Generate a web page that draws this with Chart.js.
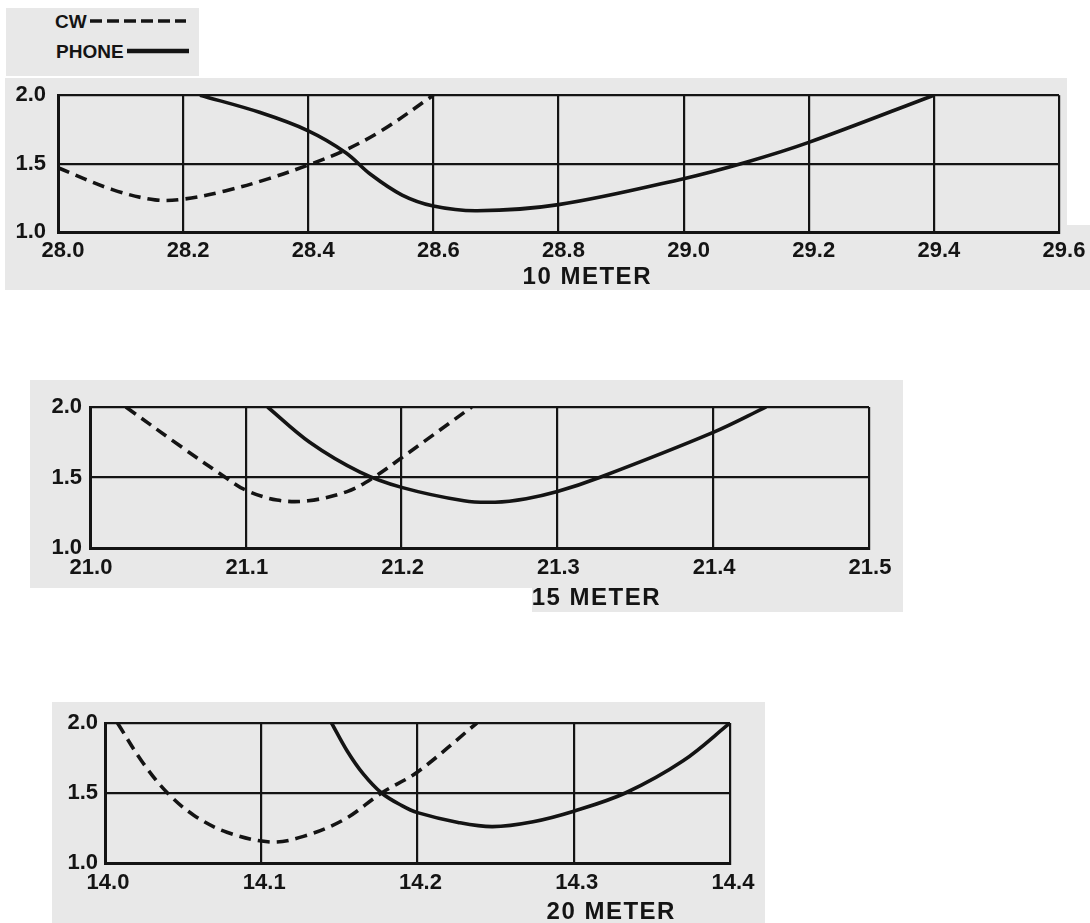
<!DOCTYPE html>
<html><head><meta charset="utf-8">
<script src="https://cdn.jsdelivr.net/npm/chart.js@4/dist/chart.umd.min.js"></script>
<style>
html,body{margin:0;padding:0;background:#fff;width:1090px;height:923px;overflow:hidden;font-family:"Liberation Sans",Arial,sans-serif;}
.panel{position:absolute;background:#e8e8e8;}
canvas{position:absolute;left:0;}
.lg{position:absolute;font-weight:bold;font-size:19px;color:#141414;line-height:1;}
</style></head><body>
<div class="panel" style="left:6px;top:8px;width:193px;height:68px"></div>
<div class="panel" style="left:5px;top:78px;width:1062px;height:212px"></div>
<div class="panel" style="left:1060px;top:225px;width:30px;height:65px"></div>
<div class="panel" style="left:30px;top:380px;width:873px;height:208px"></div>
<div class="panel" style="left:532px;top:586px;width:371px;height:26px"></div>
<div class="panel" style="left:52px;top:702px;width:713px;height:221px"></div>

<div class="lg" style="left:55px;top:12px;">CW</div>
<svg style="position:absolute;left:89px;top:16px" width="100" height="10"><line x1="1" y1="5" x2="97" y2="5" stroke="#141414" stroke-width="3.5" stroke-dasharray="12,5"/></svg>
<div class="lg" style="left:56px;top:42px;">PHONE</div>
<svg style="position:absolute;left:126px;top:46px" width="66" height="10"><line x1="1" y1="5" x2="63" y2="5" stroke="#141414" stroke-width="4.5"/></svg>

<canvas id="c10" width="1090" height="220" style="top:70px"></canvas>
<canvas id="c15" width="1090" height="240" style="top:380px"></canvas>
<canvas id="c20" width="1090" height="223" style="top:700px"></canvas>
<script>
// ---- 10 METER ----
const xTicks10 = [28.0, 28.2, 28.4, 28.6, 28.8, 29.0, 29.2, 29.4, 29.6];
const xLabels10 = ["28.0", "28.2", "28.4", "28.6", "28.8", "29.0", "29.2", "29.4", "29.6"];
const cw10X = [28.0, 28.087, 28.155, 28.2, 28.267, 28.337, 28.4, 28.455, 28.517, 28.6];
const cw10Y = [1.47, 1.31, 1.235, 1.24, 1.30, 1.39, 1.49, 1.59, 1.74, 2.0];
const phone10X = [28.227, 28.322, 28.4, 28.46, 28.5, 28.55, 28.6, 28.67, 28.8, 29.0, 29.1, 29.2, 29.4];
const phone10Y = [2.0, 1.875, 1.74, 1.58, 1.42, 1.27, 1.19, 1.155, 1.20, 1.39, 1.51, 1.655, 2.0];

// ---- 15 METER ----
const xTicks15 = [21.0, 21.1, 21.2, 21.3, 21.4, 21.5];
const xLabels15 = ["21.0", "21.1", "21.2", "21.3", "21.4", "21.5"];
const cw15X = [21.023, 21.057, 21.087, 21.1, 21.12, 21.14, 21.165, 21.182, 21.2, 21.245];
const cw15Y = [2.0, 1.73, 1.50, 1.41, 1.34, 1.335, 1.40, 1.50, 1.64, 2.0];
const phone15X = [21.114, 21.141, 21.173, 21.2, 21.24, 21.26, 21.28, 21.3, 21.327, 21.4, 21.434];
const phone15Y = [2.0, 1.75, 1.54, 1.43, 1.335, 1.325, 1.35, 1.40, 1.50, 1.82, 2.0];

// ---- 20 METER ----
const xTicks20 = [14.0, 14.1, 14.2, 14.3, 14.4];
const xLabels20 = ["14.0", "14.1", "14.2", "14.3", "14.4"];
const cw20X = [14.008, 14.024, 14.04, 14.057, 14.078, 14.106, 14.127, 14.153, 14.177, 14.2, 14.238];
const cw20Y = [2.0, 1.72, 1.50, 1.34, 1.22, 1.15, 1.19, 1.31, 1.50, 1.65, 2.0];
const phone20X = [14.145, 14.155, 14.165, 14.177, 14.19, 14.2, 14.226, 14.248, 14.274, 14.3, 14.333, 14.37, 14.4];
const phone20Y = [2.0, 1.80, 1.64, 1.50, 1.41, 1.36, 1.29, 1.26, 1.295, 1.37, 1.50, 1.73, 2.0];

// ---- shared SWR axis ----
const yTicks = [1.0, 1.5, 2.0];
const yLabels = ["1.0", "1.5", "2.0"];

const INK = '#141414';
const FONT = '"Liberation Sans", Arial, sans-serif';

function zip(xs, ys) { return xs.map((x, i) => ({x: x, y: ys[i]})); }

const bandTitle = {
  id: 'bandTitle',
  afterDraw(chart, args, o) {
    const ctx = chart.ctx;
    const px = chart.scales.x.getPixelForValue(o.at);
    ctx.save();
    ctx.font = 'bold 24px ' + FONT;
    try { ctx.letterSpacing = '1.5px'; } catch (e) {}
    ctx.fillStyle = INK;
    ctx.textAlign = 'center';
    ctx.textBaseline = 'middle';
    ctx.fillText(o.text, px, chart.chartArea.bottom + o.dy);
    ctx.restore();
  }
};

function makeChart(id, c) {
  return new Chart(document.getElementById(id), {
    type: 'line',
    data: {
      datasets: [
        {label: 'CW', data: zip(c.cwX, c.cwY), borderColor: INK, borderWidth: 3.6,
         borderDash: [12, 7], pointRadius: 0, tension: 0.35, fill: false},
        {label: 'PHONE', data: zip(c.phX, c.phY), borderColor: INK, borderWidth: 3.6,
         pointRadius: 0, tension: 0.35, fill: false}
      ]
    },
    options: {
      responsive: false,
      animation: false,
      events: [],
      layout: {padding: {top: c.padTop, right: c.padRight, left: 0, bottom: 0}},
      plugins: {
        legend: {display: false},
        tooltip: {enabled: false},
        bandTitle: {text: c.title, at: c.titleAt, dy: c.titleDy}
      },
      scales: {
        x: {
          type: 'linear', min: c.xTicks[0], max: c.xTicks[c.xTicks.length - 1],
          afterBuildTicks: s => { s.ticks = c.xTicks.map(v => ({value: v})); },
          afterFit: s => { s.height = c.xH; },
          ticks: {font: {family: FONT, size: 22, weight: 'bold'}, color: INK,
                  padding: c.xPad, labelOffset: c.xOff, maxRotation: 0, autoSkip: false,
                  callback: (v, i) => c.xLabels[i]},
          grid: {color: INK, lineWidth: 2.2, drawTicks: false},
          border: {color: INK, width: 3}
        },
        y: {
          min: 1, max: 2,
          afterBuildTicks: s => { s.ticks = yTicks.map(v => ({value: v})); },
          afterFit: s => { s.width = c.yW; },
          ticks: {font: {family: FONT, size: 22, weight: 'bold'}, color: INK,
                  padding: c.yPad, autoSkip: false,
                  callback: (v, i) => yLabels[i]},
          grid: {color: INK, lineWidth: 2.2, drawTicks: false},
          border: {color: INK, width: 3}
        }
      }
    },
    plugins: [bandTitle]
  });
}

makeChart('c10', {cwX: cw10X, cwY: cw10Y, phX: phone10X, phY: phone10Y,
  xTicks: xTicks10, xLabels: xLabels10, padTop: 17, padRight: 31, yW: 58, xH: 58,
  xPad: 6, xOff: 5, yPad: 12, title: '10 METER', titleAt: 28.846, titleDy: 45});
makeChart('c15', {cwX: cw15X, cwY: cw15Y, phX: phone15X, phY: phone15Y,
  xTicks: xTicks15, xLabels: xLabels15, padTop: 27, padRight: 221, yW: 90, xH: 72,
  xPad: 7, xOff: 1, yPad: 8, title: '15 METER', titleAt: 21.325, titleDy: 50});
makeChart('c20', {cwX: cw20X, cwY: cw20Y, phX: phone20X, phY: phone20Y,
  xTicks: xTicks20, xLabels: xLabels20, padTop: 23, padRight: 360, yW: 105, xH: 60,
  xPad: 7, xOff: 3, yPad: 7, title: '20 METER', titleAt: 14.324, titleDy: 49});
</script>
</body></html>
